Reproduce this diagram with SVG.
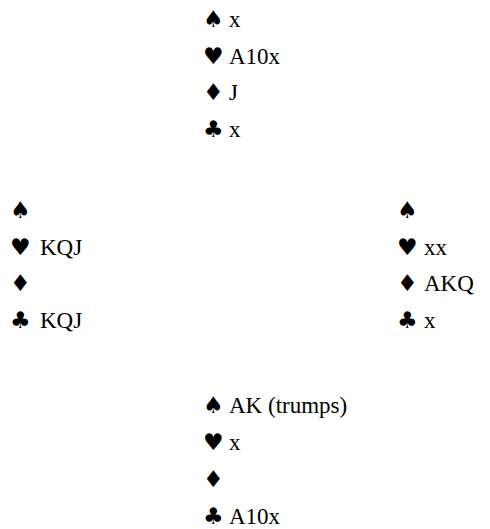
<svg xmlns="http://www.w3.org/2000/svg" width="490" height="529" viewBox="0 0 490 529">
<rect width="490" height="529" fill="#fff"/>
<g id="north" fill="#000">
<text x="203" y="27" font-family="DejaVu Sans" font-size="23">♠</text><text x="229" y="27" font-family="Liberation Serif" font-size="23">x</text>
<text x="203" y="63.7" font-family="DejaVu Sans" font-size="23">♥</text><text x="229" y="63.7" font-family="Liberation Serif" font-size="23">A10x</text>
<text x="203" y="100.4" font-family="DejaVu Sans" font-size="23">♦</text><text x="229" y="100.4" font-family="Liberation Serif" font-size="23">J</text>
<text x="203" y="137" font-family="DejaVu Sans" font-size="23">♣</text><text x="229" y="137" font-family="Liberation Serif" font-size="23">x</text>
</g>
<g id="west" fill="#000">
<text x="10" y="218" font-family="DejaVu Sans" font-size="23">♠</text>
<text x="10" y="254.5" font-family="DejaVu Sans" font-size="23">♥</text><text x="40" y="254.5" font-family="Liberation Serif" font-size="23">KQJ</text>
<text x="10" y="291" font-family="DejaVu Sans" font-size="23">♦</text>
<text x="10" y="327.5" font-family="DejaVu Sans" font-size="23">♣</text><text x="40" y="327.5" font-family="Liberation Serif" font-size="23">KQJ</text>
</g>
<g id="east" fill="#000">
<text x="397" y="218" font-family="DejaVu Sans" font-size="23">♠</text>
<text x="397" y="254.5" font-family="DejaVu Sans" font-size="23">♥</text><text x="424" y="254.5" font-family="Liberation Serif" font-size="23">xx</text>
<text x="397" y="291" font-family="DejaVu Sans" font-size="23">♦</text><text x="424" y="291" font-family="Liberation Serif" font-size="23">AKQ</text>
<text x="397" y="327.5" font-family="DejaVu Sans" font-size="23">♣</text><text x="424" y="327.5" font-family="Liberation Serif" font-size="23">x</text>
</g>
<g id="south" fill="#000">
<text x="203" y="413" font-family="DejaVu Sans" font-size="23">♠</text><text x="229" y="413" font-family="Liberation Serif" font-size="23">AK (trumps)</text>
<text x="203" y="450" font-family="DejaVu Sans" font-size="23">♥</text><text x="229" y="450" font-family="Liberation Serif" font-size="23">x</text>
<text x="203" y="487" font-family="DejaVu Sans" font-size="23">♦</text>
<text x="203" y="524" font-family="DejaVu Sans" font-size="23">♣</text><text x="229" y="524" font-family="Liberation Serif" font-size="23">A10x</text>
</g>
<g id="connectors"></g>
</svg>
